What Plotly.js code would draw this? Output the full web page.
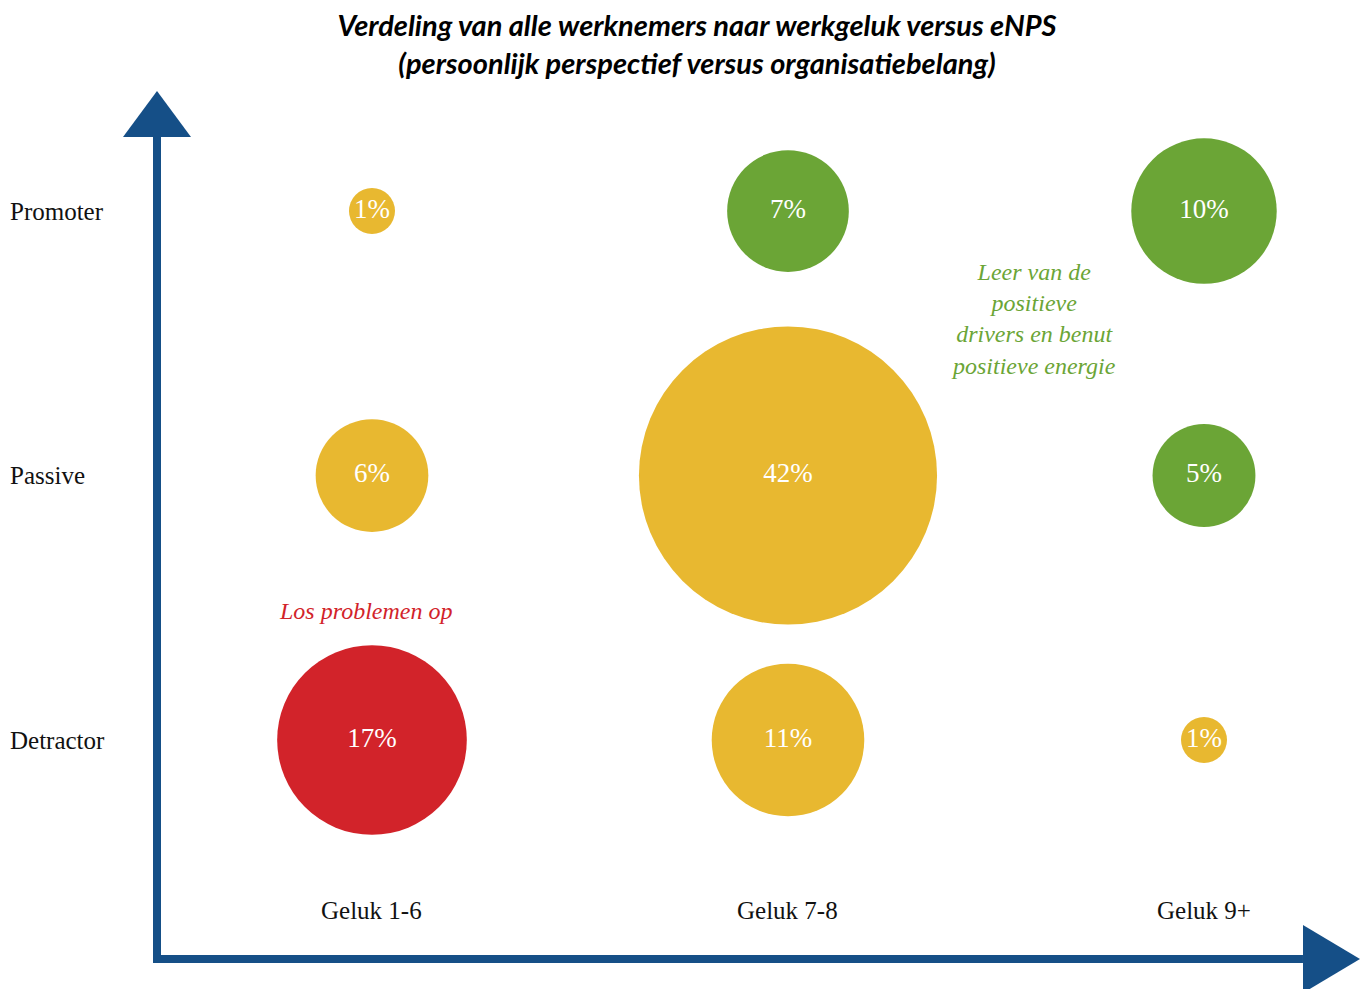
<!DOCTYPE html>
<html>
<head>
<meta charset="utf-8">
<script src="https://cdn.plot.ly/plotly-3.0.1.min.js"></script>
<style>html,body{margin:0;padding:0;background:#fff;}#chart{width:1360px;height:989px;}</style>
</head>
<body>
<div id="chart"></div>
<script>
// ---- data ----
var gelukCategories = ['Geluk 1-6', 'Geluk 7-8', 'Geluk 9+'];
var enpsCategories = ['Detractor', 'Passive', 'Promoter'];
// percentages per cell (row = eNPS group, column = geluk group)
var promoterValues = [1, 7, 10];
var passiveValues = [6, 42, 5];
var detractorValues = [17, 11, 1];

// ---- styles ----
var YELLOW = '#E8B830', GREEN = '#6BA536', RED = '#D2232A', BLUE = '#154F87';
var rowColors = {
  Promoter: [YELLOW, GREEN, GREEN],
  Passive: [YELLOW, YELLOW, GREEN],
  Detractor: [RED, YELLOW, YELLOW]
};
var rows = {Promoter: promoterValues, Passive: passiveValues, Detractor: detractorValues};

var SERIF = 'Liberation Serif, DejaVu Serif, serif';

var xs = [], ys = [], vals = [], cols = [], texts = [];
enpsCategories.forEach(function (r) {
  rows[r].forEach(function (v, i) {
    xs.push(gelukCategories[i]);
    ys.push(r);
    vals.push(v);
    cols.push(rowColors[r][i]);
    texts.push(v + '%');
  });
});

var trace = {
  type: 'scatter',
  mode: 'markers+text',
  x: xs, y: ys,
  text: texts,
  textposition: 'middle center',
  textfont: {family: SERIF, size: 27, color: '#ffffff'},
  marker: {size: vals, sizemode: 'area', sizeref: 1 / 1058, color: cols, opacity: 1, line: {width: 0}},
  hoverinfo: 'skip',
  cliponaxis: false,
  showlegend: false
};

var annotations = [];
enpsCategories.forEach(function (r) {
  annotations.push({text: r, xref: 'paper', x: -0.1239, xanchor: 'left', yref: 'y', y: r,
    yanchor: 'middle', showarrow: false, font: {family: SERIF, size: 25, color: '#111'}});
});
gelukCategories.forEach(function (c) {
  annotations.push({text: c, xref: 'x', x: c, xanchor: 'center', yref: 'paper', y: 0.0553,
    yanchor: 'middle', showarrow: false, font: {family: SERIF, size: 25, color: '#111'}});
});
annotations.push({text: 'Los problemen op', xref: 'paper', x: 0.1737, yref: 'paper', y: 0.4009,
  xanchor: 'center', yanchor: 'middle', showarrow: false,
  font: {family: SERIF, size: 24, color: RED, style: 'italic'}});
annotations.push({text: 'Leer van de<br>positieve<br>drivers en benut<br>positieve energie',
  xref: 'paper', x: 0.7282, yref: 'paper', y: 0.7379, xanchor: 'center', yanchor: 'middle',
  align: 'center', showarrow: false,
  font: {family: SERIF, size: 24, color: GREEN, style: 'italic'}});

var shapes = [
  {type: 'line', xref: 'paper', yref: 'paper', x0: 0, x1: 0, y0: -4 / 868, y1: 0.947,
    line: {color: BLUE, width: 8}},
  {type: 'line', xref: 'paper', yref: 'paper', x0: -4 / 1203, x1: 0.9526, y0: 0, y1: 0,
    line: {color: BLUE, width: 8}},
  {type: 'path', xref: 'paper', yref: 'paper',
    path: 'M -0.02826 0.947 L 0 1 L 0.02826 0.947 Z', fillcolor: BLUE, line: {width: 0}},
  {type: 'path', xref: 'paper', yref: 'paper',
    path: 'M 0.9526 0.0392 L 1 0 L 0.9526 -0.0392 Z', fillcolor: BLUE, line: {width: 0}}
];

var layout = {
  width: 1360, height: 989,
  margin: {l: 157, r: 0, t: 91, b: 30},
  paper_bgcolor: '#ffffff', plot_bgcolor: '#ffffff',
  title: {
    text: 'Verdeling van alle werknemers naar werkgeluk versus eNPS<br>(persoonlijk perspectief versus organisatiebelang)',
    font: {family: 'Lato, Open Sans, sans-serif', size: 29, color: '#000', weight: 700, style: 'italic'},
    x: 0.5125, xanchor: 'center', xref: 'container',
    y: 1 - 36 / 989, yanchor: 'middle', yref: 'container'
  },
  xaxis: {type: 'category', categoryorder: 'array', categoryarray: gelukCategories,
    range: [-0.5168, 2.375], showgrid: false, zeroline: false, showline: false,
    showticklabels: false, ticks: '', fixedrange: true},
  yaxis: {type: 'category', categoryorder: 'array', categoryarray: enpsCategories,
    range: [-0.828, 2.454], showgrid: false, zeroline: false, showline: false,
    showticklabels: false, ticks: '', fixedrange: true},
  annotations: annotations,
  shapes: shapes,
  showlegend: false
};

Plotly.newPlot('chart', [trace], layout, {displayModeBar: false, staticPlot: true});
</script>
</body>
</html>
